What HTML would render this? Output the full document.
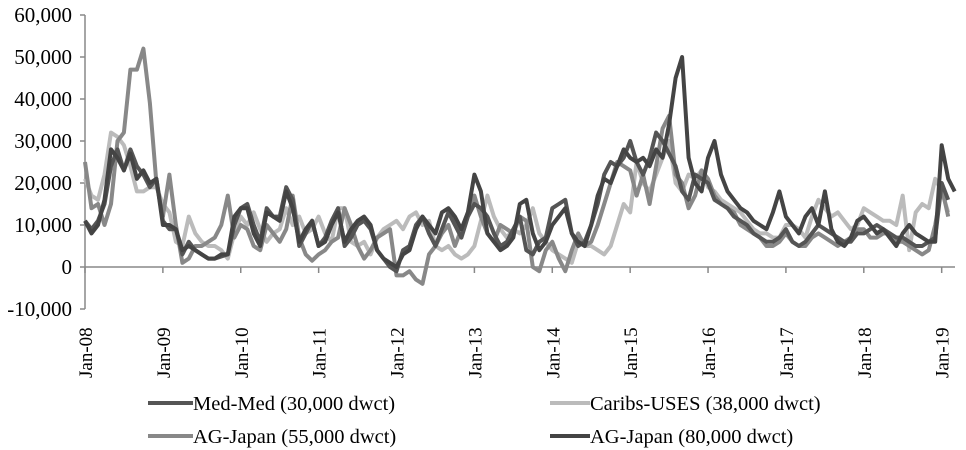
<!DOCTYPE html><html><head><style>body{margin:0;background:#fff}svg{display:block;font-family:"Liberation Serif",serif}</style></head><body>
<svg id="s" width="966" height="450" xmlns="http://www.w3.org/2000/svg">
<g font-size="21" text-anchor="end" fill="#000">
<text x="72" y="22">60,000</text><text x="72" y="64">50,000</text><text x="72" y="106">40,000</text><text x="72" y="148">30,000</text><text x="72" y="190">20,000</text><text x="72" y="232">10,000</text><text x="72" y="274">0</text><text x="72" y="316">-10,000</text>
</g>
<g id="ax" stroke="#888" stroke-width="1.5" fill="none"></g>
<g id="xl" font-size="19" fill="#000"></g>
<g id="ln" fill="none" stroke-width="4" stroke-linejoin="round"></g>
<g font-size="20.5" fill="#000">
<line x1="148" y1="403" x2="193" y2="403" stroke="#555" stroke-width="4"/><text x="193" y="410">Med-Med (30,000 dwct)</text>
<line x1="550" y1="403" x2="590" y2="403" stroke="#bbb" stroke-width="4"/><text x="590" y="410">Caribs-USES (38,000 dwct)</text>
<line x1="148" y1="436" x2="193" y2="436" stroke="#888" stroke-width="4"/><text x="193" y="443">AG-Japan (55,000 dwct)</text>
<line x1="550" y1="436" x2="590" y2="436" stroke="#444" stroke-width="4"/><text x="590" y="443">AG-Japan (80,000 dwct)</text>
</g>
</svg>
<script>
var X0=85,DX=6.49,Y0=267,K=4.2;
var ax=document.getElementById('ax'),xl=document.getElementById('xl'),ln=document.getElementById('ln');
var h='<line x1="85" y1="15" x2="85" y2="309"/><line x1="85" y1="267" x2="955" y2="267"/>';
for(var v=0;v<=7;v++){var y=15+v*42;h+='<line x1="80" y1="'+y+'" x2="85" y2="'+y+'"/>';}
var t='';
for(var yr=0;yr<=11;yr++){var x=X0+yr*12*DX;h+='<line x1="'+x+'" y1="267" x2="'+x+'" y2="273"/>';
t+='<text transform="translate('+(x+7)+',378) rotate(-90)">Jan-'+String(8+yr).padStart(2,'0')+'</text>';}
ax.innerHTML=h;xl.innerHTML=t;
var S=[
["#bbb",[21,17,16,22,32,31,29,24,18,18,19,19,15,13,6,5,12,8,6,5,5,4,2,8,12,10,13,9,6,8,9,14,10,12,8,9,12,8,6,14,14,6,5,6,3,7,9,10,11,9,12,13,10,11,5,4,5,3,2,3,5,11,17,12,9,7,9,8,10,14,8,6,4,3,2,1,6,5,5,4,3,5,10,15,13,25,20,18,22,26,30,20,18,22,21,23,19,18,16,15,14,13,11,9,8,8,7,7,10,10,9,7,12,16,14,12,13,11,9,10,14,13,12,11,11,10,17,4,13,15,14,21,18,13]],
["#888",[25,14,15,10,15,30,32,47,47,52,39,20,12,22,10,1,2,5,5,6,7,10,17,7,10,9,5,4,10,8,6,9,17,7,3,1.5,3,4,6,7,14,10,5,2,4,7,8,9,-2,-2,-1,-3,-4,3,5,8,10,5,9,13,17,12,8,6,10,9,8,12,11,0,-1,4,6,2,-1,4,8,5,6,10,15,20,25,24,23,17,22,15,24,33,36,22,20,14,17,23,21,17,15,14,13,10,9,8,7,5,5,6,8,6,5,5,7,8,7,6,5,6,7,9,9,7,7,8,8,6,6,5,4,3,4,10,19,12]],
["#555",[11,9,11,15,24,28,23,28,24,22,19,21,11,9,9,3,6,4,3,2,2,2.5,3,10,14,15,10,6,14,12,12,19,16,5,8,11,5,7,11,14,5,7,10,11,9,4,2,0,-1,4,5,10,12,8,5,9,13,10,7,12,15,14,12,8,5,6,9,12,4,3,6,7,14,15,16,8,5,6,10,15,22,25,24,26,30,25,22,26,32,30,27,24,18,16,22,21,20,16,15,14,12,11,10,8,7,6,6,7,9,6,5,6,8,10,9,8,7,6,6,8,8,9,10,9,8,7,7,6,5,5,6,7,20,16]],
["#444",[11,8,10,16,28,26,23,27,21,23,20,21,10,10,9,4,5,4,3,2,2,3,3,12,14,14,8,5,13,12,11,18,14,6,9,11,5,6,10,13,6,9,11,12,10,4,2,1,0,3,4,9,12,10,8,13,14,12,9,13,22,18,8,6,4,5,7,15,16,8,4,6,10,12,14,8,6,5,10,17,21,20,24,28,26,25,26,24,28,26,34,45,50,26,20,18,26,30,22,18,16,14,13,11,10,9,13,18,12,10,8,12,14,10,18,9,6,5,7,11,12,10,8,9,7,5,8,10,8,7,6,6,29,21,18]]];
var o='';S.forEach(function(s){var d='';s[1].forEach(function(v,i){var x=X0+i*DX;if(x>955)return;d+=(i?'L':'M')+x.toFixed(1)+' '+(Y0-v*K).toFixed(1);});o+='<path d="'+d+'" stroke="'+s[0]+'"/>';});
ln.innerHTML=o;
</script>
</body></html>
